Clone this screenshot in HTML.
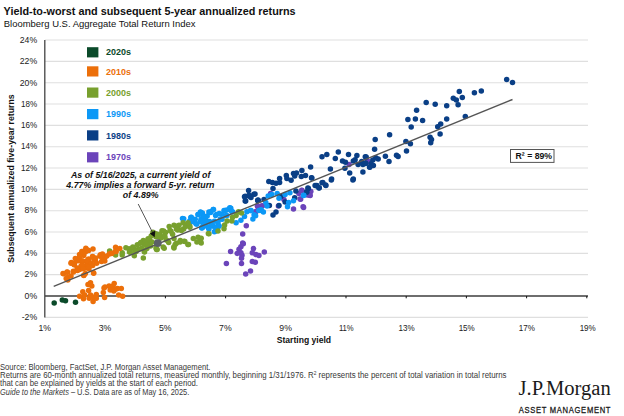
<!DOCTYPE html><html><head><meta charset="utf-8"><style>html,body{margin:0;padding:0;background:#fff;width:624px;height:416px;overflow:hidden}svg{display:block;font-family:"Liberation Sans",sans-serif}</style></head><body><svg width="624" height="416" viewBox="0 0 624 416" font-family="Liberation Sans, sans-serif"><g stroke="#dfdfdf" stroke-width="1.1"><line x1="45" y1="317.33" x2="588" y2="317.33"/><line x1="45" y1="274.67" x2="588" y2="274.67"/><line x1="45" y1="253.34" x2="588" y2="253.34"/><line x1="45" y1="232.01" x2="588" y2="232.01"/><line x1="45" y1="210.68" x2="588" y2="210.68"/><line x1="45" y1="189.35" x2="588" y2="189.35"/><line x1="45" y1="168.02" x2="588" y2="168.02"/><line x1="45" y1="146.69" x2="588" y2="146.69"/><line x1="45" y1="125.36" x2="588" y2="125.36"/><line x1="45" y1="104.03" x2="588" y2="104.03"/><line x1="45" y1="82.70" x2="588" y2="82.70"/><line x1="45" y1="61.37" x2="588" y2="61.37"/><line x1="45" y1="40.04" x2="588" y2="40.04"/></g><g font-size="8.7" text-anchor="end" fill="#222"><text x="37.2" y="320.13" textLength="15.47" lengthAdjust="spacingAndGlyphs">-2%</text><text x="37.2" y="298.80" textLength="12.57" lengthAdjust="spacingAndGlyphs">0%</text><text x="37.2" y="277.47" textLength="12.57" lengthAdjust="spacingAndGlyphs">2%</text><text x="37.2" y="256.14" textLength="12.57" lengthAdjust="spacingAndGlyphs">4%</text><text x="37.2" y="234.81" textLength="12.57" lengthAdjust="spacingAndGlyphs">6%</text><text x="37.2" y="213.48" textLength="12.57" lengthAdjust="spacingAndGlyphs">8%</text><text x="37.2" y="192.15" textLength="16.11" lengthAdjust="spacingAndGlyphs">10%</text><text x="37.2" y="170.82" textLength="16.11" lengthAdjust="spacingAndGlyphs">12%</text><text x="37.2" y="149.49" textLength="16.11" lengthAdjust="spacingAndGlyphs">14%</text><text x="37.2" y="128.16" textLength="16.11" lengthAdjust="spacingAndGlyphs">16%</text><text x="37.2" y="106.83" textLength="16.11" lengthAdjust="spacingAndGlyphs">18%</text><text x="37.2" y="85.50" textLength="17.41" lengthAdjust="spacingAndGlyphs">20%</text><text x="37.2" y="64.17" textLength="17.41" lengthAdjust="spacingAndGlyphs">22%</text><text x="37.2" y="42.84" textLength="17.41" lengthAdjust="spacingAndGlyphs">24%</text></g><g font-size="8.7" text-anchor="middle" fill="#222"><text x="44.80" y="331.3">1%</text><text x="105.00" y="331.3">3%</text><text x="165.20" y="331.3">5%</text><text x="225.40" y="331.3">7%</text><text x="285.60" y="331.3">9%</text><text x="346.30" y="331.3" textLength="14.81" lengthAdjust="spacingAndGlyphs">11%</text><text x="406.50" y="331.3" textLength="16.11" lengthAdjust="spacingAndGlyphs">13%</text><text x="466.70" y="331.3" textLength="16.11" lengthAdjust="spacingAndGlyphs">15%</text><text x="526.90" y="331.3" textLength="16.11" lengthAdjust="spacingAndGlyphs">17%</text><text x="587.70" y="331.3" textLength="16.11" lengthAdjust="spacingAndGlyphs">19%</text></g><line x1="45" y1="296" x2="588" y2="296" stroke="#6e6e6e" stroke-width="1.9"/><g stroke="#111" stroke-width="1"><line x1="105.20" y1="296" x2="105.20" y2="298.3"/><line x1="165.40" y1="296" x2="165.40" y2="298.3"/><line x1="225.60" y1="296" x2="225.60" y2="298.3"/><line x1="285.80" y1="296" x2="285.80" y2="298.3"/><line x1="346.00" y1="296" x2="346.00" y2="298.3"/><line x1="406.20" y1="296" x2="406.20" y2="298.3"/><line x1="466.40" y1="296" x2="466.40" y2="298.3"/><line x1="526.60" y1="296" x2="526.60" y2="298.3"/><line x1="586.80" y1="296" x2="586.80" y2="298.3"/></g><g fill="#6b44ba"><circle cx="257.7" cy="206.4" r="2.75"/><circle cx="255.3" cy="211.8" r="2.75"/><circle cx="246.3" cy="225.7" r="2.75"/><circle cx="242.7" cy="234.1" r="2.75"/><circle cx="242.7" cy="243.1" r="2.75"/><circle cx="243.3" cy="243.8" r="2.75"/><circle cx="240.9" cy="246.8" r="2.75"/><circle cx="239.0" cy="249.2" r="2.75"/><circle cx="230.6" cy="251.4" r="2.75"/><circle cx="237.2" cy="253.4" r="2.75"/><circle cx="240.9" cy="252.8" r="2.75"/><circle cx="242.0" cy="255.2" r="2.75"/><circle cx="241.5" cy="258.3" r="2.75"/><circle cx="226.4" cy="263.4" r="2.75"/><circle cx="241.5" cy="263.4" r="2.75"/><circle cx="253.5" cy="248.6" r="2.75"/><circle cx="252.3" cy="252.8" r="2.75"/><circle cx="255.9" cy="254.6" r="2.75"/><circle cx="258.9" cy="255.5" r="2.75"/><circle cx="264.3" cy="251.9" r="2.75"/><circle cx="252.3" cy="261.5" r="2.75"/><circle cx="255.3" cy="262.2" r="2.75"/><circle cx="250.5" cy="270.9" r="2.75"/><circle cx="245.7" cy="273.9" r="2.75"/><circle cx="257.4" cy="206.1" r="2.75"/><circle cx="261.6" cy="206.1" r="2.75"/><circle cx="270.6" cy="193.4" r="2.75"/><circle cx="278.4" cy="206.1" r="2.75"/><circle cx="283.9" cy="199.5" r="2.75"/><circle cx="293.5" cy="209.1" r="2.75"/><circle cx="300.1" cy="198.9" r="2.75"/><circle cx="303.1" cy="206.7" r="2.75"/><circle cx="301.9" cy="190.4" r="2.75"/><circle cx="298.9" cy="193.4" r="2.75"/><circle cx="309.7" cy="195.2" r="2.75"/><circle cx="310.3" cy="191.6" r="2.75"/><circle cx="255.6" cy="212.1" r="2.75"/><circle cx="257.7" cy="206.2" r="2.75"/><circle cx="262.5" cy="205.8" r="2.75"/><circle cx="349.1" cy="164.6" r="2.75"/><circle cx="367.7" cy="161.6" r="2.75"/><circle cx="368.0" cy="161.5" r="2.75"/><circle cx="301.8" cy="190.2" r="2.75"/><circle cx="310.8" cy="191.4" r="2.75"/><circle cx="310.2" cy="195.6" r="2.75"/><circle cx="300.6" cy="199.2" r="2.75"/><circle cx="303.6" cy="207.4" r="2.75"/><circle cx="307.2" cy="195.0" r="2.75"/></g><g fill="#0a3f86"><circle cx="244.5" cy="196.8" r="2.75"/><circle cx="249.3" cy="196.2" r="2.75"/><circle cx="245.7" cy="201.0" r="2.75"/><circle cx="257.7" cy="200.4" r="2.75"/><circle cx="248.6" cy="190.4" r="2.75"/><circle cx="245.2" cy="196.2" r="2.75"/><circle cx="249.0" cy="195.2" r="2.75"/><circle cx="251.0" cy="197.6" r="2.75"/><circle cx="253.8" cy="194.2" r="2.75"/><circle cx="245.2" cy="201.0" r="2.75"/><circle cx="258.2" cy="200.5" r="2.75"/><circle cx="268.8" cy="181.4" r="2.75"/><circle cx="272.4" cy="182.6" r="2.75"/><circle cx="276.0" cy="183.2" r="2.75"/><circle cx="279.6" cy="182.6" r="2.75"/><circle cx="279.6" cy="178.4" r="2.75"/><circle cx="286.3" cy="175.4" r="2.75"/><circle cx="286.9" cy="178.4" r="2.75"/><circle cx="291.1" cy="180.2" r="2.75"/><circle cx="293.5" cy="173.6" r="2.75"/><circle cx="296.5" cy="173.0" r="2.75"/><circle cx="294.7" cy="176.0" r="2.75"/><circle cx="301.9" cy="170.6" r="2.75"/><circle cx="301.3" cy="176.6" r="2.75"/><circle cx="305.5" cy="175.4" r="2.75"/><circle cx="311.5" cy="177.8" r="2.75"/><circle cx="273.0" cy="188.6" r="2.75"/><circle cx="255.0" cy="194.0" r="2.75"/><circle cx="258.0" cy="200.0" r="2.75"/><circle cx="264.0" cy="199.5" r="2.75"/><circle cx="269.4" cy="205.5" r="2.75"/><circle cx="279.0" cy="205.5" r="2.75"/><circle cx="285.1" cy="201.9" r="2.75"/><circle cx="280.9" cy="196.5" r="2.75"/><circle cx="294.7" cy="197.7" r="2.75"/><circle cx="295.9" cy="191.0" r="2.75"/><circle cx="307.9" cy="188.0" r="2.75"/><circle cx="306.7" cy="192.2" r="2.75"/><circle cx="273.0" cy="215.1" r="2.75"/><circle cx="276.0" cy="212.1" r="2.75"/><circle cx="315.1" cy="185.6" r="2.75"/><circle cx="322.0" cy="156.8" r="2.75"/><circle cx="326.8" cy="154.4" r="2.75"/><circle cx="338.3" cy="152.0" r="2.75"/><circle cx="335.3" cy="158.6" r="2.75"/><circle cx="348.5" cy="154.4" r="2.75"/><circle cx="356.9" cy="155.6" r="2.75"/><circle cx="365.3" cy="156.8" r="2.75"/><circle cx="342.5" cy="161.0" r="2.75"/><circle cx="345.5" cy="162.2" r="2.75"/><circle cx="353.3" cy="161.0" r="2.75"/><circle cx="355.1" cy="159.8" r="2.75"/><circle cx="358.1" cy="164.6" r="2.75"/><circle cx="361.7" cy="161.6" r="2.75"/><circle cx="362.9" cy="164.6" r="2.75"/><circle cx="365.3" cy="163.4" r="2.75"/><circle cx="369.5" cy="167.0" r="2.75"/><circle cx="310.6" cy="167.0" r="2.75"/><circle cx="330.4" cy="168.9" r="2.75"/><circle cx="344.9" cy="168.3" r="2.75"/><circle cx="349.7" cy="173.1" r="2.75"/><circle cx="362.9" cy="171.9" r="2.75"/><circle cx="353.3" cy="179.1" r="2.75"/><circle cx="331.6" cy="179.1" r="2.75"/><circle cx="311.8" cy="177.9" r="2.75"/><circle cx="322.0" cy="182.7" r="2.75"/><circle cx="325.6" cy="185.1" r="2.75"/><circle cx="316.6" cy="185.7" r="2.75"/><circle cx="319.0" cy="188.1" r="2.75"/><circle cx="389.6" cy="134.8" r="2.75"/><circle cx="375.2" cy="139.4" r="2.75"/><circle cx="374.6" cy="149.2" r="2.75"/><circle cx="405.9" cy="141.4" r="2.75"/><circle cx="410.4" cy="143.8" r="2.75"/><circle cx="406.5" cy="151.0" r="2.75"/><circle cx="385.4" cy="156.2" r="2.75"/><circle cx="396.5" cy="155.2" r="2.75"/><circle cx="398.1" cy="156.5" r="2.75"/><circle cx="389.0" cy="161.5" r="2.75"/><circle cx="378.2" cy="158.9" r="2.75"/><circle cx="375.8" cy="157.7" r="2.75"/><circle cx="372.8" cy="160.1" r="2.75"/><circle cx="366.2" cy="157.1" r="2.75"/><circle cx="365.6" cy="163.1" r="2.75"/><circle cx="371.0" cy="163.7" r="2.75"/><circle cx="373.4" cy="165.5" r="2.75"/><circle cx="369.8" cy="167.3" r="2.75"/><circle cx="459.3" cy="91.6" r="2.75"/><circle cx="462.3" cy="97.6" r="2.75"/><circle cx="453.3" cy="98.2" r="2.75"/><circle cx="456.3" cy="100.0" r="2.75"/><circle cx="458.1" cy="104.8" r="2.75"/><circle cx="446.7" cy="105.7" r="2.75"/><circle cx="435.2" cy="104.2" r="2.75"/><circle cx="426.2" cy="102.4" r="2.75"/><circle cx="416.6" cy="110.2" r="2.75"/><circle cx="415.4" cy="118.9" r="2.75"/><circle cx="422.6" cy="120.5" r="2.75"/><circle cx="446.7" cy="118.9" r="2.75"/><circle cx="465.3" cy="116.5" r="2.75"/><circle cx="440.7" cy="124.1" r="2.75"/><circle cx="437.7" cy="126.8" r="2.75"/><circle cx="411.2" cy="127.1" r="2.75"/><circle cx="440.1" cy="134.1" r="2.75"/><circle cx="407.9" cy="119.6" r="2.75"/><circle cx="506.7" cy="79.4" r="2.75"/><circle cx="512.5" cy="82.4" r="2.75"/><circle cx="474.4" cy="92.7" r="2.75"/><circle cx="481.3" cy="91.1" r="2.75"/><circle cx="430.1" cy="137.2" r="2.75"/><circle cx="431.5" cy="139.6" r="2.75"/><circle cx="430.7" cy="142.7" r="2.75"/><circle cx="316.8" cy="185.4" r="2.75"/><circle cx="319.2" cy="187.8" r="2.75"/><circle cx="322.8" cy="182.4" r="2.75"/><circle cx="325.9" cy="185.4" r="2.75"/><circle cx="308.4" cy="188.4" r="2.75"/><circle cx="306.6" cy="192.0" r="2.75"/><circle cx="331.3" cy="180.0" r="2.75"/><circle cx="352.9" cy="180.0" r="2.75"/></g><g fill="#0c98f6"><circle cx="182.5" cy="218.6" r="2.75"/><circle cx="190.9" cy="217.4" r="2.75"/><circle cx="189.7" cy="221.0" r="2.75"/><circle cx="194.5" cy="222.2" r="2.75"/><circle cx="198.1" cy="214.4" r="2.75"/><circle cx="200.5" cy="212.0" r="2.75"/><circle cx="202.9" cy="216.2" r="2.75"/><circle cx="196.9" cy="224.0" r="2.75"/><circle cx="201.7" cy="227.7" r="2.75"/><circle cx="205.3" cy="219.8" r="2.75"/><circle cx="206.5" cy="225.9" r="2.75"/><circle cx="208.9" cy="228.9" r="2.75"/><circle cx="208.9" cy="212.0" r="2.75"/><circle cx="200.5" cy="221.6" r="2.75"/><circle cx="202.4" cy="213.0" r="2.75"/><circle cx="202.4" cy="220.2" r="2.75"/><circle cx="202.4" cy="227.5" r="2.75"/><circle cx="207.2" cy="216.0" r="2.75"/><circle cx="210.8" cy="211.8" r="2.75"/><circle cx="213.2" cy="209.4" r="2.75"/><circle cx="215.6" cy="215.4" r="2.75"/><circle cx="209.6" cy="221.5" r="2.75"/><circle cx="208.4" cy="227.5" r="2.75"/><circle cx="213.2" cy="226.3" r="2.75"/><circle cx="218.0" cy="226.9" r="2.75"/><circle cx="215.6" cy="231.1" r="2.75"/><circle cx="220.4" cy="219.0" r="2.75"/><circle cx="224.0" cy="210.6" r="2.75"/><circle cx="225.9" cy="215.4" r="2.75"/><circle cx="230.1" cy="208.2" r="2.75"/><circle cx="232.5" cy="211.8" r="2.75"/><circle cx="236.1" cy="222.7" r="2.75"/><circle cx="240.9" cy="220.2" r="2.75"/><circle cx="244.5" cy="216.6" r="2.75"/><circle cx="246.9" cy="211.8" r="2.75"/><circle cx="250.5" cy="210.6" r="2.75"/><circle cx="254.1" cy="214.8" r="2.75"/><circle cx="252.9" cy="219.0" r="2.75"/><circle cx="258.9" cy="210.6" r="2.75"/><circle cx="221.6" cy="214.2" r="2.75"/><circle cx="205.4" cy="218.4" r="2.75"/><circle cx="218.0" cy="222.7" r="2.75"/><circle cx="230.8" cy="208.2" r="2.75"/><circle cx="226.9" cy="210.1" r="2.75"/><circle cx="251.0" cy="210.6" r="2.75"/><circle cx="261.5" cy="210.6" r="2.75"/><circle cx="268.2" cy="195.9" r="2.75"/><circle cx="271.8" cy="194.6" r="2.75"/><circle cx="265.8" cy="202.5" r="2.75"/><circle cx="267.0" cy="206.1" r="2.75"/><circle cx="261.0" cy="209.7" r="2.75"/><circle cx="263.4" cy="212.1" r="2.75"/><circle cx="277.2" cy="193.4" r="2.75"/><circle cx="279.0" cy="198.3" r="2.75"/><circle cx="285.1" cy="194.6" r="2.75"/><circle cx="289.9" cy="192.8" r="2.75"/><circle cx="288.7" cy="202.5" r="2.75"/><circle cx="287.5" cy="206.7" r="2.75"/><circle cx="293.5" cy="200.7" r="2.75"/><circle cx="303.7" cy="195.2" r="2.75"/><circle cx="255.6" cy="215.7" r="2.75"/><circle cx="303.6" cy="195.6" r="2.75"/><circle cx="183.7" cy="218.8" r="2.75"/><circle cx="191.3" cy="217.3" r="2.75"/><circle cx="190.4" cy="222.1" r="2.75"/><circle cx="195.2" cy="219.2" r="2.75"/><circle cx="198.1" cy="214.4" r="2.75"/><circle cx="200.5" cy="212.5" r="2.75"/><circle cx="196.2" cy="224.0" r="2.75"/><circle cx="201.0" cy="219.2" r="2.75"/><circle cx="203.8" cy="216.3" r="2.75"/><circle cx="202.9" cy="223.1" r="2.75"/><circle cx="201.9" cy="227.9" r="2.75"/><circle cx="206.7" cy="222.1" r="2.75"/><circle cx="208.7" cy="227.9" r="2.75"/><circle cx="210.6" cy="212.5" r="2.75"/><circle cx="213.5" cy="209.6" r="2.75"/><circle cx="216.3" cy="214.4" r="2.75"/><circle cx="214.4" cy="221.2" r="2.75"/><circle cx="219.2" cy="213.5" r="2.75"/><circle cx="222.1" cy="219.2" r="2.75"/><circle cx="225.0" cy="210.6" r="2.75"/><circle cx="229.8" cy="207.7" r="2.75"/><circle cx="231.7" cy="211.5" r="2.75"/><circle cx="226.9" cy="215.4" r="2.75"/><circle cx="216.3" cy="226.9" r="2.75"/><circle cx="214.4" cy="231.7" r="2.75"/><circle cx="219.2" cy="226.0" r="2.75"/><circle cx="211.5" cy="225.0" r="2.75"/></g><g fill="#78a02e"><circle cx="109.6" cy="250.9" r="2.75"/><circle cx="115.6" cy="255.1" r="2.75"/><circle cx="122.2" cy="252.7" r="2.75"/><circle cx="122.2" cy="255.1" r="2.75"/><circle cx="125.9" cy="247.8" r="2.75"/><circle cx="129.5" cy="249.0" r="2.75"/><circle cx="129.5" cy="252.0" r="2.75"/><circle cx="134.3" cy="255.7" r="2.75"/><circle cx="133.7" cy="248.4" r="2.75"/><circle cx="137.3" cy="244.8" r="2.75"/><circle cx="140.9" cy="242.4" r="2.75"/><circle cx="143.3" cy="240.6" r="2.75"/><circle cx="144.5" cy="244.2" r="2.75"/><circle cx="138.5" cy="249.0" r="2.75"/><circle cx="144.5" cy="252.0" r="2.75"/><circle cx="143.3" cy="258.1" r="2.75"/><circle cx="148.1" cy="238.8" r="2.75"/><circle cx="149.3" cy="242.4" r="2.75"/><circle cx="152.9" cy="232.2" r="2.75"/><circle cx="156.5" cy="249.6" r="2.75"/><circle cx="158.9" cy="237.0" r="2.75"/><circle cx="150.5" cy="246.0" r="2.75"/><circle cx="146.9" cy="248.4" r="2.75"/><circle cx="136.1" cy="251.5" r="2.75"/><circle cx="151.2" cy="236.1" r="2.75"/><circle cx="156.0" cy="233.7" r="2.75"/><circle cx="162.0" cy="230.7" r="2.75"/><circle cx="164.4" cy="236.1" r="2.75"/><circle cx="169.2" cy="226.5" r="2.75"/><circle cx="171.0" cy="231.3" r="2.75"/><circle cx="174.0" cy="225.2" r="2.75"/><circle cx="177.7" cy="225.9" r="2.75"/><circle cx="181.3" cy="230.1" r="2.75"/><circle cx="183.1" cy="222.8" r="2.75"/><circle cx="187.3" cy="224.6" r="2.75"/><circle cx="189.7" cy="225.9" r="2.75"/><circle cx="168.0" cy="240.9" r="2.75"/><circle cx="174.0" cy="238.5" r="2.75"/><circle cx="163.2" cy="246.9" r="2.75"/><circle cx="156.0" cy="248.1" r="2.75"/><circle cx="175.2" cy="244.5" r="2.75"/><circle cx="180.0" cy="242.1" r="2.75"/><circle cx="184.9" cy="241.5" r="2.75"/><circle cx="188.5" cy="244.5" r="2.75"/><circle cx="174.0" cy="248.1" r="2.75"/><circle cx="193.3" cy="238.5" r="2.75"/><circle cx="198.1" cy="237.3" r="2.75"/><circle cx="200.5" cy="240.9" r="2.75"/><circle cx="196.9" cy="242.1" r="2.75"/><circle cx="208.9" cy="233.7" r="2.75"/><circle cx="183.7" cy="228.9" r="2.75"/><circle cx="177.7" cy="230.1" r="2.75"/><circle cx="165.6" cy="232.5" r="2.75"/><circle cx="208.4" cy="233.5" r="2.75"/><circle cx="218.0" cy="231.1" r="2.75"/><circle cx="224.0" cy="228.7" r="2.75"/><circle cx="224.6" cy="225.1" r="2.75"/><circle cx="227.1" cy="220.9" r="2.75"/><circle cx="231.9" cy="220.9" r="2.75"/><circle cx="232.5" cy="217.2" r="2.75"/><circle cx="236.1" cy="215.4" r="2.75"/><circle cx="238.5" cy="211.8" r="2.75"/><circle cx="241.5" cy="213.0" r="2.75"/><circle cx="201.2" cy="238.3" r="2.75"/><circle cx="201.2" cy="243.1" r="2.75"/><circle cx="129.0" cy="249.0" r="2.75"/><circle cx="132.8" cy="247.1" r="2.75"/><circle cx="140.5" cy="243.2" r="2.75"/><circle cx="145.6" cy="241.3" r="2.75"/><circle cx="149.5" cy="239.4" r="2.75"/><circle cx="146.9" cy="245.1" r="2.75"/><circle cx="141.8" cy="248.3" r="2.75"/><circle cx="135.4" cy="250.9" r="2.75"/><circle cx="130.3" cy="252.2" r="2.75"/><circle cx="152.1" cy="241.9" r="2.75"/><circle cx="155.9" cy="236.8" r="2.75"/><circle cx="159.7" cy="234.2" r="2.75"/><circle cx="161.0" cy="238.1" r="2.75"/><circle cx="164.9" cy="236.8" r="2.75"/><circle cx="163.6" cy="231.0" r="2.75"/><circle cx="170.0" cy="230.4" r="2.75"/><circle cx="172.6" cy="234.2" r="2.75"/><circle cx="176.4" cy="229.1" r="2.75"/><circle cx="179.0" cy="225.3" r="2.75"/><circle cx="181.5" cy="230.4" r="2.75"/><circle cx="185.4" cy="226.5" r="2.75"/><circle cx="188.0" cy="222.7" r="2.75"/><circle cx="189.9" cy="227.2" r="2.75"/><circle cx="176.4" cy="243.2" r="2.75"/><circle cx="180.3" cy="240.6" r="2.75"/><circle cx="184.1" cy="241.3" r="2.75"/><circle cx="187.9" cy="244.5" r="2.75"/><circle cx="173.8" cy="247.1" r="2.75"/><circle cx="166.2" cy="240.0" r="2.75"/><circle cx="157.2" cy="249.6" r="2.75"/><circle cx="164.2" cy="248.3" r="2.75"/><circle cx="144.4" cy="251.5" r="2.75"/><circle cx="168.7" cy="242.6" r="2.75"/></g><g fill="#ec6f0a"><circle cx="85.8" cy="248.2" r="2.75"/><circle cx="93.0" cy="249.1" r="2.75"/><circle cx="88.7" cy="250.6" r="2.75"/><circle cx="82.9" cy="251.5" r="2.75"/><circle cx="79.5" cy="254.4" r="2.75"/><circle cx="83.8" cy="255.4" r="2.75"/><circle cx="92.5" cy="256.8" r="2.75"/><circle cx="100.2" cy="255.4" r="2.75"/><circle cx="103.0" cy="258.3" r="2.75"/><circle cx="71.3" cy="262.6" r="2.75"/><circle cx="74.2" cy="264.5" r="2.75"/><circle cx="79.0" cy="259.2" r="2.75"/><circle cx="82.9" cy="261.2" r="2.75"/><circle cx="87.7" cy="263.0" r="2.75"/><circle cx="95.4" cy="260.7" r="2.75"/><circle cx="91.5" cy="264.5" r="2.75"/><circle cx="81.0" cy="266.4" r="2.75"/><circle cx="85.8" cy="267.9" r="2.75"/><circle cx="78.0" cy="269.8" r="2.75"/><circle cx="73.3" cy="271.3" r="2.75"/><circle cx="67.5" cy="272.2" r="2.75"/><circle cx="63.7" cy="273.7" r="2.75"/><circle cx="93.5" cy="272.7" r="2.75"/><circle cx="83.8" cy="275.6" r="2.75"/><circle cx="67.5" cy="277.5" r="2.75"/><circle cx="77.1" cy="267.9" r="2.75"/><circle cx="88.7" cy="259.2" r="2.75"/><circle cx="100.0" cy="256.3" r="2.75"/><circle cx="104.8" cy="257.5" r="2.75"/><circle cx="104.8" cy="261.1" r="2.75"/><circle cx="110.8" cy="253.3" r="2.75"/><circle cx="115.6" cy="247.2" r="2.75"/><circle cx="119.8" cy="248.4" r="2.75"/><circle cx="116.2" cy="251.5" r="2.75"/><circle cx="102.4" cy="253.9" r="2.75"/><circle cx="90.5" cy="282.8" r="2.75"/><circle cx="91.8" cy="286.0" r="2.75"/><circle cx="88.6" cy="290.5" r="2.75"/><circle cx="82.8" cy="291.8" r="2.75"/><circle cx="79.6" cy="296.3" r="2.75"/><circle cx="83.5" cy="298.8" r="2.75"/><circle cx="84.7" cy="295.0" r="2.75"/><circle cx="90.5" cy="295.0" r="2.75"/><circle cx="89.2" cy="298.2" r="2.75"/><circle cx="93.1" cy="301.4" r="2.75"/><circle cx="96.3" cy="294.4" r="2.75"/><circle cx="96.3" cy="298.2" r="2.75"/><circle cx="92.4" cy="296.9" r="2.75"/><circle cx="104.0" cy="288.0" r="2.75"/><circle cx="103.3" cy="292.4" r="2.75"/><circle cx="104.6" cy="297.6" r="2.75"/><circle cx="109.1" cy="286.0" r="2.75"/><circle cx="114.2" cy="283.5" r="2.75"/><circle cx="111.7" cy="289.2" r="2.75"/><circle cx="115.5" cy="289.2" r="2.75"/><circle cx="121.3" cy="288.6" r="2.75"/><circle cx="118.7" cy="295.0" r="2.75"/><circle cx="122.6" cy="296.3" r="2.75"/><circle cx="113.0" cy="286.0" r="2.75"/><circle cx="93.7" cy="273.2" r="2.75"/><circle cx="81.8" cy="251.4" r="2.75"/><circle cx="79.6" cy="256.4" r="2.75"/><circle cx="81.8" cy="260.7" r="2.75"/><circle cx="78.2" cy="260.7" r="2.75"/><circle cx="86.8" cy="261.5" r="2.75"/><circle cx="86.8" cy="265.1" r="2.75"/><circle cx="83.2" cy="265.8" r="2.75"/><circle cx="90.4" cy="263.6" r="2.75"/><circle cx="94.0" cy="260.0" r="2.75"/><circle cx="92.6" cy="256.4" r="2.75"/><circle cx="95.5" cy="257.9" r="2.75"/><circle cx="74.6" cy="262.9" r="2.75"/><circle cx="75.3" cy="258.6" r="2.75"/><circle cx="88.3" cy="259.3" r="2.75"/><circle cx="85.4" cy="252.1" r="2.75"/><circle cx="87.5" cy="249.9" r="2.75"/><circle cx="79.6" cy="269.4" r="2.75"/><circle cx="89.0" cy="268.7" r="2.75"/><circle cx="71.0" cy="263.2" r="2.75"/><circle cx="74.2" cy="264.8" r="2.75"/><circle cx="81.4" cy="265.6" r="2.75"/><circle cx="83.0" cy="268.8" r="2.75"/><circle cx="88.7" cy="267.2" r="2.75"/><circle cx="92.7" cy="265.6" r="2.75"/><circle cx="96.7" cy="263.2" r="2.75"/><circle cx="101.5" cy="261.6" r="2.75"/><circle cx="87.0" cy="260.8" r="2.75"/><circle cx="63.0" cy="273.6" r="2.75"/><circle cx="67.0" cy="272.0" r="2.75"/><circle cx="73.4" cy="272.0" r="2.75"/><circle cx="77.4" cy="270.4" r="2.75"/><circle cx="83.8" cy="275.2" r="2.75"/><circle cx="85.4" cy="273.6" r="2.75"/><circle cx="67.8" cy="280.0" r="2.75"/><circle cx="66.2" cy="278.4" r="2.75"/><circle cx="71.0" cy="276.0" r="2.75"/><circle cx="110.2" cy="290.0" r="2.75"/><circle cx="113.8" cy="290.9" r="2.75"/><circle cx="105.0" cy="286.9" r="2.75"/><circle cx="117.5" cy="288.5" r="2.75"/><circle cx="88.0" cy="284.5" r="2.75"/><circle cx="100.4" cy="254.7" r="2.75"/><circle cx="103.6" cy="257.3" r="2.75"/><circle cx="106.8" cy="256.0" r="2.75"/><circle cx="109.4" cy="254.1" r="2.75"/><circle cx="111.9" cy="253.5" r="2.75"/><circle cx="115.1" cy="251.5" r="2.75"/></g><g fill="#0b4a2a"><circle cx="54.2" cy="303.1" r="2.75"/><circle cx="62.3" cy="300.1" r="2.75"/><circle cx="65.5" cy="300.8" r="2.75"/><circle cx="75.5" cy="302.3" r="2.75"/></g><line x1="53.7" y1="286.3" x2="512.5" y2="99.5" stroke="#555" stroke-width="1.4"/><line x1="44.8" y1="40" x2="44.8" y2="317.5" stroke="#444" stroke-width="1.3"/><circle cx="157.8" cy="243.1" r="3.95" fill="#5b5f66"/><line x1="138.2" y1="204" x2="152.6" y2="232.5" stroke="#222" stroke-width="0.75"/><path d="M149.8,233.4 L154.6,237.2 L155.4,230.4 Z" fill="#111"/><text x="3.6" y="15" font-size="10.84" font-weight="bold" fill="#111">Yield-to-worst and subsequent 5-year annualized returns</text><text x="3.8" y="26.9" font-size="9.46" fill="#111">Bloomberg U.S. Aggregate Total Return Index</text><text transform="translate(14.3,178.6) rotate(-90)" x="-84.25" y="0" font-size="9.5" font-weight="bold" fill="#111" textLength="168.5" lengthAdjust="spacingAndGlyphs">Subsequent annualized five-year returns</text><text x="276.7" y="342.9" font-size="8.6" font-weight="bold" fill="#111">Starting yield</text><rect x="87" y="47.2" width="11.4" height="10.2" fill="#0b4a2a"/><text x="106" y="55.4" font-size="8.95" font-weight="bold" fill="#0b4a2a">2020s</text><rect x="87" y="66.3" width="11.4" height="10.2" fill="#ec6f0a"/><text x="106" y="74.5" font-size="8.95" font-weight="bold" fill="#ec6f0a">2010s</text><rect x="87" y="87.5" width="11.4" height="10.2" fill="#78a02e"/><text x="106" y="95.7" font-size="8.95" font-weight="bold" fill="#78a02e">2000s</text><rect x="87" y="109.0" width="11.4" height="10.2" fill="#0c98f6"/><text x="106" y="117.2" font-size="8.95" font-weight="bold" fill="#0c98f6">1990s</text><rect x="87" y="130.3" width="11.4" height="10.2" fill="#0a3f86"/><text x="106" y="138.5" font-size="8.95" font-weight="bold" fill="#0a3f86">1980s</text><rect x="87" y="152.2" width="11.4" height="10.2" fill="#6b44ba"/><text x="106" y="160.4" font-size="8.95" font-weight="bold" fill="#6b44ba">1970s</text><g font-size="8.8" font-weight="bold" font-style="italic" text-anchor="middle" fill="#111"><text x="140.7" y="177.8">As of 5/16/2025, a current yield of</text><text x="140.4" y="188.1">4.77% implies a forward 5-yr. return</text><text x="140.7" y="198.1">of 4.89%</text></g><rect x="510.5" y="149.5" width="43.5" height="12.9" fill="#fff" stroke="#555" stroke-width="1"/><text x="533.8" y="159.2" text-anchor="middle" font-size="8.7" font-weight="bold" fill="#111">R² = 89%</text><g font-size="8.4" fill="#383838"><text x="0" y="369.9" textLength="210.5" lengthAdjust="spacingAndGlyphs">Source: Bloomberg, FactSet, J.P. Morgan Asset Management.</text><text x="0" y="378.4" textLength="506.5" lengthAdjust="spacingAndGlyphs">Returns are 60-month annualized total returns, measured monthly, beginning 1/31/1976. R<tspan font-size="5.2" dy="-3.2">2</tspan><tspan dy="3.2"> represents the percent of total variation in total returns</tspan></text><text x="0" y="386.4" textLength="198" lengthAdjust="spacingAndGlyphs">that can be explained by yields at the start of each period.</text><text x="0" y="394.5" textLength="189.3" lengthAdjust="spacingAndGlyphs"><tspan font-style="italic">Guide to the Markets</tspan> – U.S. Data are as of May 16, 2025.</text></g><text x="518.5" y="395.3" font-family="Liberation Serif" font-size="21.6" fill="#1a1a1a" textLength="92.3" lengthAdjust="spacingAndGlyphs">J.P.Morgan</text><text transform="translate(518.8,413.4) scale(0.8,1)" x="0" y="0" font-size="9.5" fill="#1a1a1a" stroke="#1a1a1a" stroke-width="0.3" textLength="114.6" lengthAdjust="spacing">ASSET MANAGEMENT</text></svg></body></html>
